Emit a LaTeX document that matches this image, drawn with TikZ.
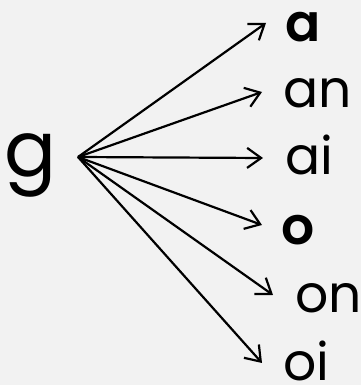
\documentclass[tikz,border=0pt]{standalone}
\usepackage{fontspec}
\usetikzlibrary{arrows.meta}
\setmainfont{Poppins}[BoldFont={Poppins SemiBold}]
\definecolor{bg}{RGB}{242,242,242}
\begin{document}
\begin{tikzpicture}[x=1pt,y=1pt,
  lbl/.style={anchor=base west,inner sep=0pt,font=\fontsize{52}{52}\selectfont},
  arr/.style={-{Straight Barb[length=14pt,width=20pt,line width=2.2pt]},line width=2.2pt}]
\fill[bg] (0,0) rectangle (361,385);
\useasboundingbox (0,0) rectangle (361,385);
\node[anchor=base west,inner sep=0pt,font=\fontsize{77}{77}\selectfont] (g) at (4,208) {g};
\coordinate (src) at (78,228);
\node[lbl,font=\fontsize{52}{52}\selectfont\bfseries] (a) at (285,343) {a};
\node[lbl] (an) at (283,277) {an};
\node[lbl] (ai) at (285,210) {ai};
\node[lbl,font=\fontsize{52}{52}\selectfont\bfseries] (o) at (281,140) {o};
\node[lbl] (on) at (295,72) {on};
\node[lbl] (oi) at (283,5) {oi};
\coordinate (ta) at (266,362);
\coordinate (tan) at (262,293);
\coordinate (tai) at (263,227);
\coordinate (to) at (262,160);
\coordinate (ton) at (273,90);
\coordinate (toi) at (262,22);
\foreach \t in {ta,tan,tai,to,ton,toi} \draw[arr] (src) -- (\t);
\end{tikzpicture}
\end{document}
